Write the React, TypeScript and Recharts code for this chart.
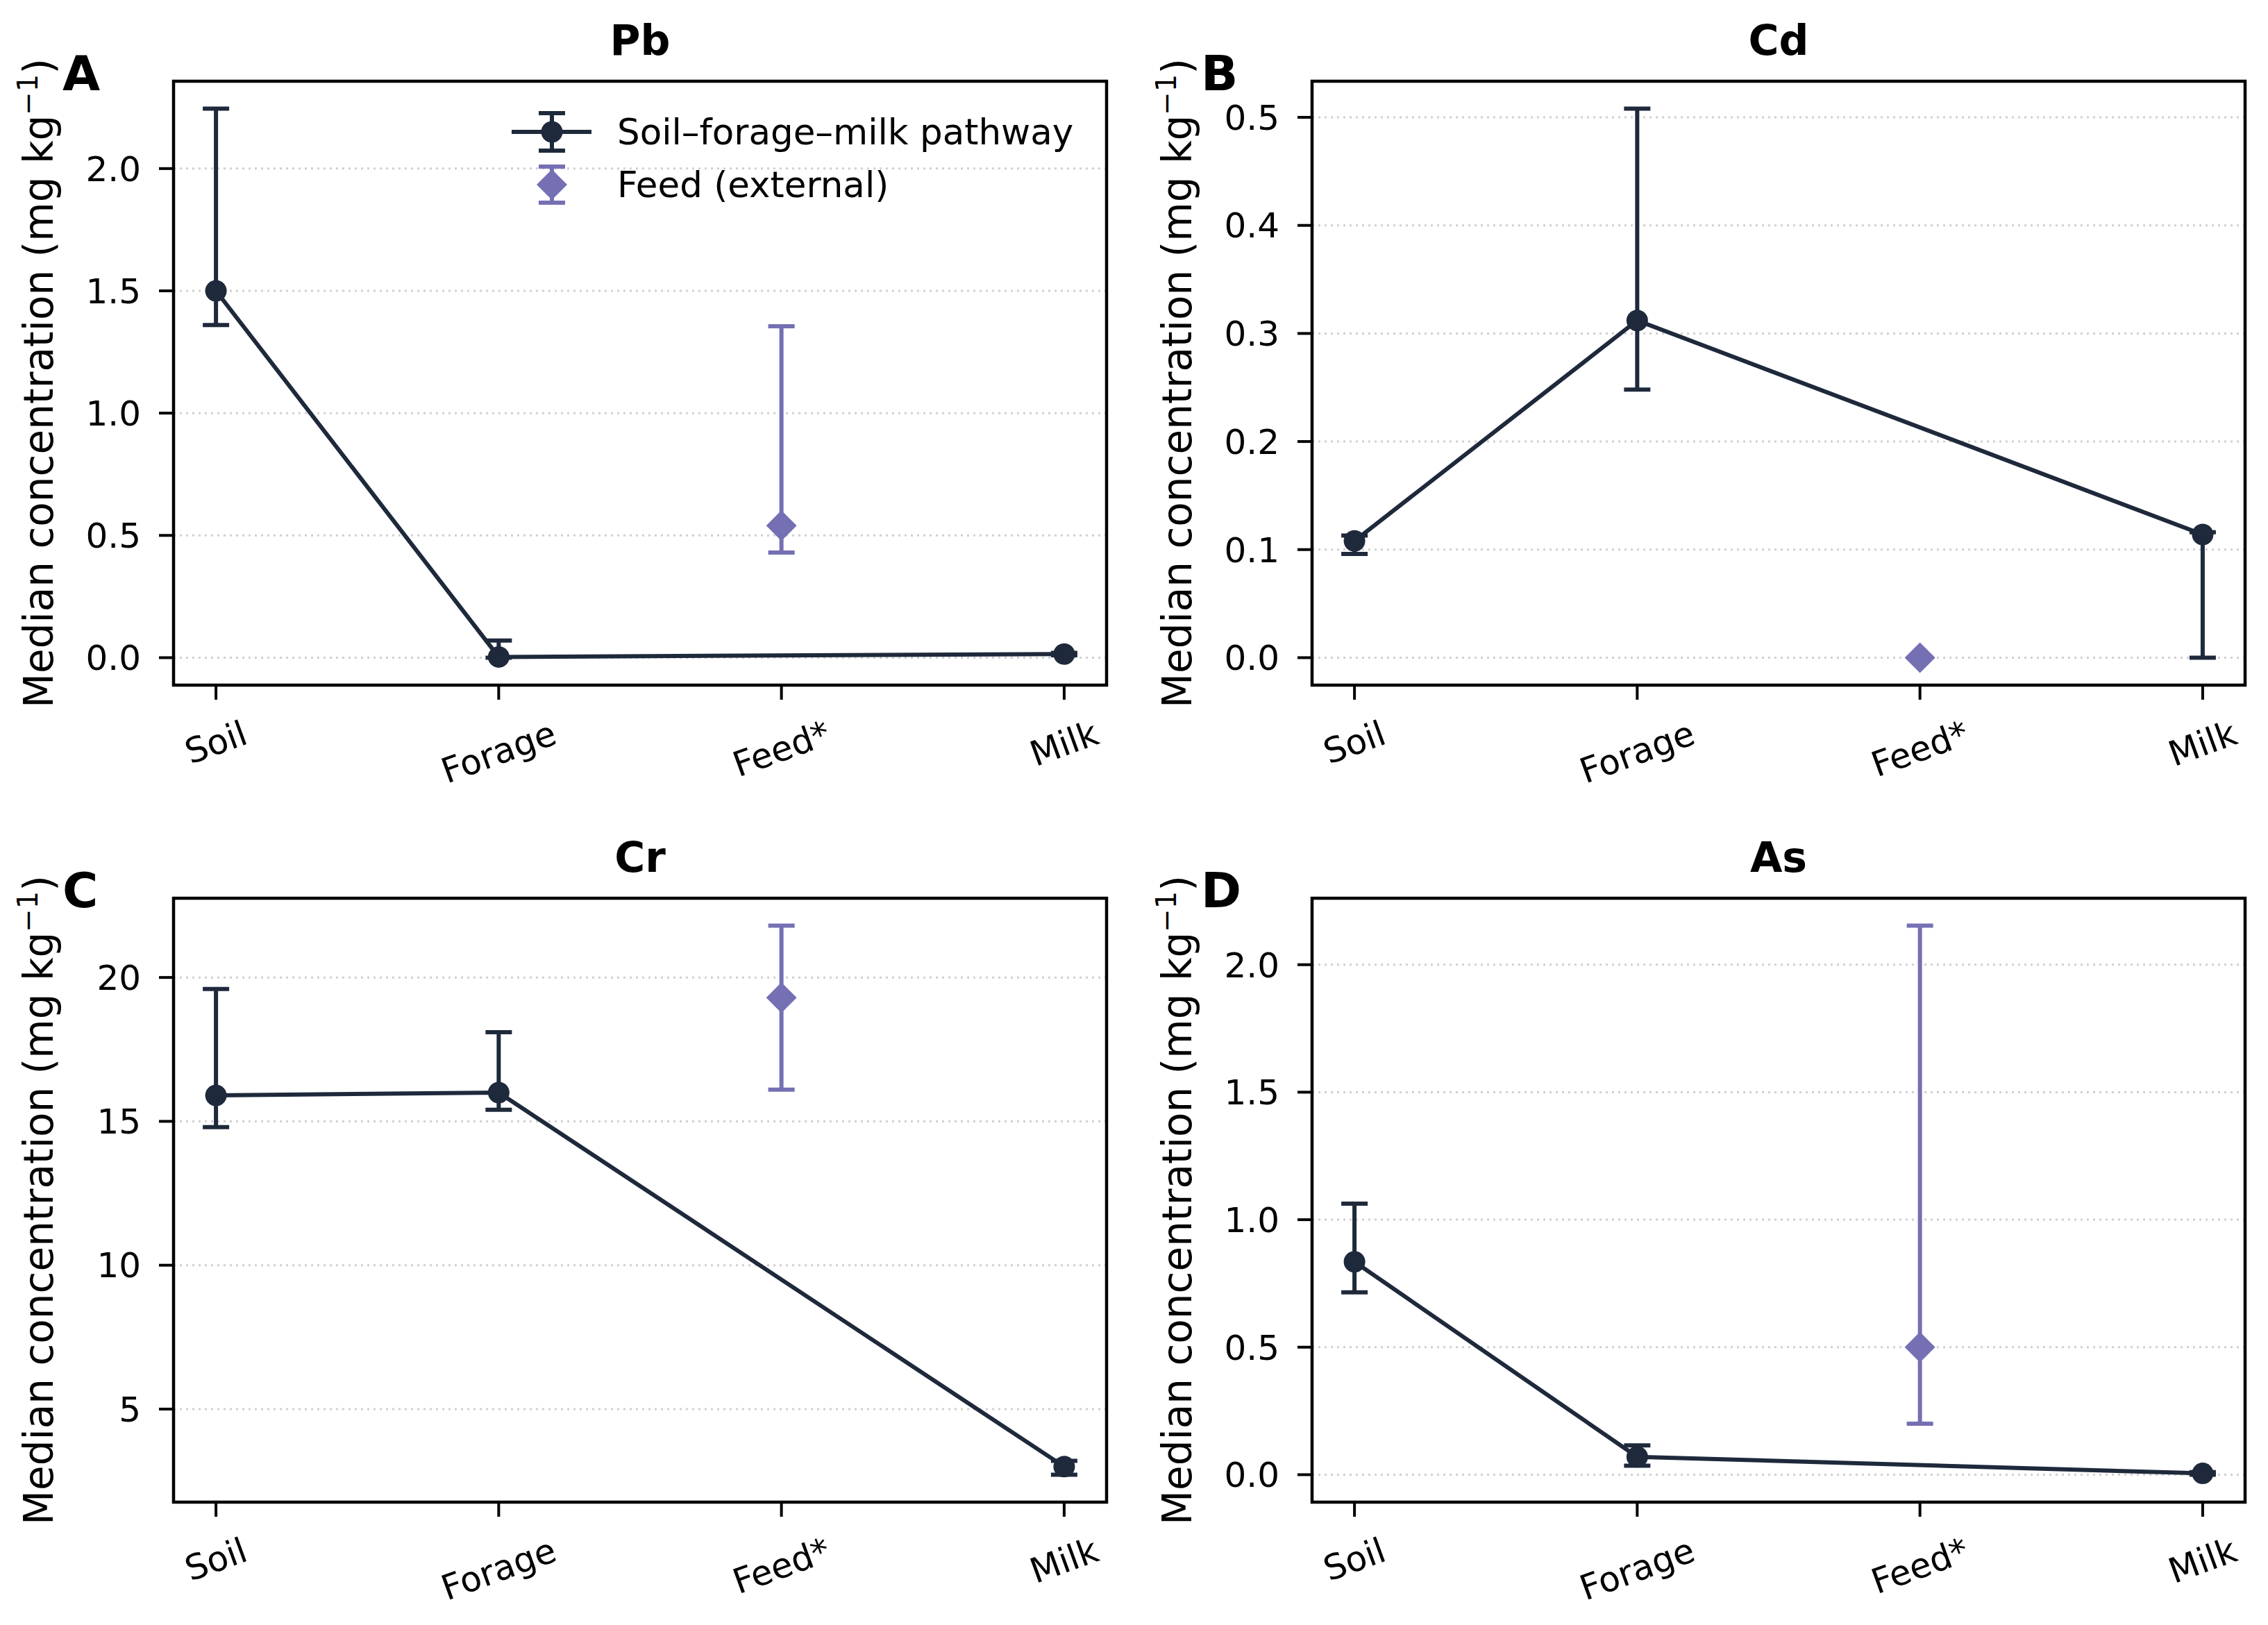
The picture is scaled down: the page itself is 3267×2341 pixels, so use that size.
import React from 'react'
import { ComposedChart, Scatter, ErrorBar, XAxis, YAxis, CartesianGrid, ReferenceArea } from 'recharts'

const FONT = '"DejaVu Sans", sans-serif'
const INK = '#1e293b'
const FEED_COLOR = '#7570b3'

const STAGES = ['Soil', 'Forage', 'Feed*', 'Milk']
const FEED_INDEX = 2

// median and interval bounds per stage (mg/kg), in STAGES order
const PB_MEDIAN = [1.5, 0.003, 0.54, 0.015]
const PB_LOW = [1.36, 0.0, 0.43, 0.01]
const PB_HIGH = [2.245, 0.07, 1.355, 0.02]

const CD_MEDIAN = [0.108, 0.312, 0.0, 0.114]
const CD_LOW = [0.096, 0.248, 0.0, 0.0]
const CD_HIGH = [0.113, 0.508, 0.0, 0.116]

const CR_MEDIAN = [15.9, 16.0, 19.3, 3.0]
const CR_LOW = [14.8, 15.4, 16.1, 2.72]
const CR_HIGH = [19.6, 18.1, 21.8, 3.2]

const AS_MEDIAN = [0.835, 0.07, 0.5, 0.005]
const AS_LOW = [0.715, 0.035, 0.2, 0.0]
const AS_HIGH = [1.063, 0.115, 2.153, 0.01]

const PB_TICKS = [0, 0.5, 1, 1.5, 2]
const CD_TICKS = [0, 0.1, 0.2, 0.3, 0.4, 0.5]
const CR_TICKS = [5, 10, 15, 20]
const AS_TICKS = [0, 0.5, 1, 1.5, 2]

// panel geometry
const CHART_W = 1627
const CHART_H = 1164
const PLOT_LEFT = 250
const PLOT_TOP = 117
const PLOT_RIGHT = 1594
const PLOT_BOTTOM = 987
const X_DOMAIN: [number, number] = [-0.15, 3.15]
const TICK_FONT = 50
const LINE_W = 6
const CAP = 19

type Row = { x: number; y: number; err: [number, number] }

function buildRows(median: number[], low: number[], high: number[]): Row[] {
  return median.map((m, i) => ({ x: i, y: m, err: [m - low[i], high[i] - m] as [number, number] }))
}

// matplotlib-style 5% margin around the full interval range
function paddedDomain(low: number[], high: number[]): [number, number] {
  const lo = Math.min(...low)
  const hi = Math.max(...high)
  const pad = (hi - lo) * 0.05
  return [lo - pad, hi + pad]
}

let measureCtx: CanvasRenderingContext2D | null = null
function textWidth(s: string) {
  if (!measureCtx) measureCtx = document.createElement('canvas').getContext('2d')
  if (!measureCtx) return s.length * TICK_FONT * 0.6
  measureCtx.font = `${TICK_FONT}px "DejaVu Sans"`
  return measureCtx.measureText(s).width
}

// rotated category label, top of its bounding box kept at a fixed distance below the tick
function StageTick({ x, y, payload }: any) {
  const label = STAGES[payload.value]
  const a = (20 * Math.PI) / 180
  const half = (textWidth(label) * Math.sin(a) + TICK_FONT * 1.17 * Math.cos(a)) / 2
  const cy = y + 19 + half
  return (
    <text
      x={x}
      y={cy}
      transform={`rotate(-20 ${x} ${cy})`}
      textAnchor="middle"
      dominantBaseline="central"
      fontSize={TICK_FONT}
      fontFamily={FONT}
      fill="#000"
    >
      {label}
    </text>
  )
}

const Dot = (p: any) => <circle cx={p.cx} cy={p.cy} r={15.5} fill={INK} />

function diamondPoints(cx: number, cy: number, r: number) {
  return `${cx},${cy - r} ${cx + r},${cy} ${cx},${cy + r} ${cx - r},${cy}`
}

const Diamond = (p: any) => <polygon points={diamondPoints(p.cx, p.cy, 22)} fill={FEED_COLOR} />

function Legend() {
  const lx = 795
  return (
    <g fontFamily={FONT} fontSize={51.5} fill="#000">
      <line x1={737} x2={852} y1={190} y2={190} stroke={INK} strokeWidth={LINE_W} />
      <line x1={lx} x2={lx} y1={163} y2={217} stroke={INK} strokeWidth={LINE_W} />
      <line x1={lx - CAP} x2={lx + CAP} y1={163} y2={163} stroke={INK} strokeWidth={LINE_W} />
      <line x1={lx - CAP} x2={lx + CAP} y1={217} y2={217} stroke={INK} strokeWidth={LINE_W} />
      <circle cx={lx} cy={190} r={15.5} fill={INK} />
      <text x={889} y={190} dominantBaseline="central">Soil–forage–milk pathway</text>

      <line x1={lx} x2={lx} y1={240} y2={292} stroke={FEED_COLOR} strokeWidth={LINE_W} />
      <line x1={lx - CAP} x2={lx + CAP} y1={240} y2={240} stroke={FEED_COLOR} strokeWidth={LINE_W} />
      <line x1={lx - CAP} x2={lx + CAP} y1={292} y2={292} stroke={FEED_COLOR} strokeWidth={LINE_W} />
      <polygon points={diamondPoints(lx, 266, 22)} fill={FEED_COLOR} />
      <text x={889} y={266} dominantBaseline="central">Feed (external)</text>
    </g>
  )
}

interface PanelProps {
  left: number
  top: number
  letter: string
  title: string
  median: number[]
  low: number[]
  high: number[]
  ticks: number[]
  decimals: number
  legend?: boolean
}

function Panel({ left, top, letter, title, median, low, high, ticks, decimals, legend }: PanelProps) {
  const all = buildRows(median, low, high)
  const pathway = all.filter((r) => r.x !== FEED_INDEX)
  const feed = all.filter((r) => r.x === FEED_INDEX)
  const yDomain = paddedDomain(low, high)
  const midY = (PLOT_TOP + PLOT_BOTTOM) / 2
  const labelX = 76

  return (
    <div style={{ position: 'absolute', left, top, width: CHART_W, height: CHART_H }}>
      <ComposedChart
        width={CHART_W}
        height={CHART_H}
        margin={{ top: PLOT_TOP, right: CHART_W - PLOT_RIGHT, bottom: 27, left: 0 }}
      >
        <CartesianGrid vertical={false} stroke="#d0d0d0" strokeWidth={3} strokeDasharray="3 6" />
        <XAxis
          type="number"
          dataKey="x"
          domain={X_DOMAIN}
          allowDataOverflow
          ticks={[0, 1, 2, 3]}
          interval={0}
          height={CHART_H - PLOT_BOTTOM - 27}
          axisLine={false}
          tickSize={21}
          tickMargin={0}
          tickLine={{ stroke: '#000', strokeWidth: 4 }}
          tick={<StageTick />}
        />
        <YAxis
          type="number"
          dataKey="y"
          domain={yDomain}
          allowDataOverflow
          ticks={ticks}
          interval={0}
          width={PLOT_LEFT}
          axisLine={false}
          tickSize={21}
          tickMargin={26}
          tickLine={{ stroke: '#000', strokeWidth: 4 }}
          tick={{ fill: '#000', fontSize: TICK_FONT, fontFamily: FONT }}
          tickFormatter={(v: number) => v.toFixed(decimals)}
        />
        <ReferenceArea
          x1={X_DOMAIN[0]}
          x2={X_DOMAIN[1]}
          y1={yDomain[0]}
          y2={yDomain[1]}
          fill="none"
          fillOpacity={0}
          stroke="#000"
          strokeWidth={4.5}
          ifOverflow="visible"
        />
        <Scatter
          name="Soil–forage–milk pathway"
          data={pathway}
          fill={INK}
          line={{ stroke: INK, strokeWidth: LINE_W }}
          lineType="joint"
          shape={Dot}
          isAnimationActive={false}
        >
          <ErrorBar dataKey="err" direction="y" width={CAP} stroke={INK} strokeWidth={LINE_W} isAnimationActive={false} />
        </Scatter>
        <Scatter name="Feed (external)" data={feed} fill={FEED_COLOR} shape={Diamond} isAnimationActive={false}>
          <ErrorBar dataKey="err" direction="y" width={CAP} stroke={FEED_COLOR} strokeWidth={LINE_W} isAnimationActive={false} />
        </Scatter>
      </ComposedChart>

      <svg
        width={CHART_W}
        height={CHART_H}
        style={{ position: 'absolute', left: 0, top: 0, pointerEvents: 'none' }}
      >
        <text x={(PLOT_LEFT + PLOT_RIGHT) / 2} y={79} textAnchor="middle" fontFamily={FONT} fontSize={60} fontWeight="bold" fill="#000">
          {title}
        </text>
        <text
          x={labelX}
          y={midY}
          transform={`rotate(-90 ${labelX} ${midY})`}
          textAnchor="middle"
          fontFamily={FONT}
          fontSize={58}
          fill="#000"
        >
          Median concentration (mg kg
          <tspan dy={-22} fontSize={40}>−1</tspan>
          <tspan dy={22}>)</tspan>
        </text>
        <text x={90} y={130} fontFamily={FONT} fontSize={70} fontWeight="bold" fill="#000">
          {letter}
        </text>
        {legend && <Legend />}
      </svg>
    </div>
  )
}

export default function App() {
  return (
    <div
      style={{
        position: 'fixed',
        left: 0,
        top: 0,
        width: 3267,
        height: 2341,
        background: '#fff',
        overflow: 'hidden',
      }}
    >
      <Panel left={0} top={0} letter="A" title="Pb" median={PB_MEDIAN} low={PB_LOW} high={PB_HIGH} ticks={PB_TICKS} decimals={1} legend />
      <Panel left={1640} top={0} letter="B" title="Cd" median={CD_MEDIAN} low={CD_LOW} high={CD_HIGH} ticks={CD_TICKS} decimals={1} />
      <Panel left={0} top={1177} letter="C" title="Cr" median={CR_MEDIAN} low={CR_LOW} high={CR_HIGH} ticks={CR_TICKS} decimals={0} />
      <Panel left={1640} top={1177} letter="D" title="As" median={AS_MEDIAN} low={AS_LOW} high={AS_HIGH} ticks={AS_TICKS} decimals={1} />
    </div>
  )
}
